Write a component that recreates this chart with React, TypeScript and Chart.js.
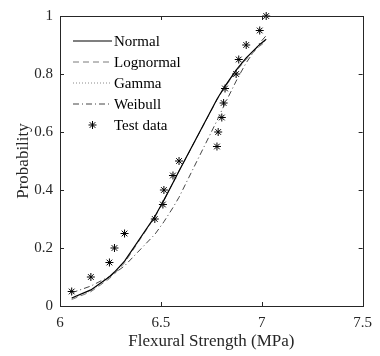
import React, { useEffect, useRef } from "react";
import { Chart, registerables } from "chart.js";
Chart.register(...registerables);

const strength = [6.058, 6.153, 6.245, 6.27, 6.32, 6.47, 6.51, 6.515, 6.56, 6.59, 6.778, 6.784, 6.802, 6.811, 6.818, 6.873, 6.886, 6.923, 6.99, 7.022];
const testProb = [0.05, 0.1, 0.15, 0.2, 0.25, 0.3, 0.35, 0.4, 0.45, 0.5, 0.55, 0.6, 0.65, 0.7, 0.75, 0.8, 0.85, 0.9, 0.95, 1.0];
const normalCdf = [0.0274, 0.0556, 0.101, 0.1171, 0.1545, 0.3085, 0.3586, 0.3651, 0.4248, 0.4657, 0.713, 0.72, 0.7405, 0.7504, 0.758, 0.8132, 0.825, 0.8559, 0.902, 0.9198];
const lognormalCdf = [0.0223, 0.0492, 0.0944, 0.1107, 0.1488, 0.3064, 0.3574, 0.364, 0.4244, 0.4655, 0.7108, 0.7177, 0.7378, 0.7475, 0.755, 0.8088, 0.8203, 0.8506, 0.896, 0.9136];
const gammaCdf = [0.025, 0.0525, 0.0978, 0.114, 0.1517, 0.3075, 0.358, 0.3646, 0.4246, 0.4656, 0.7119, 0.7189, 0.7392, 0.749, 0.7565, 0.811, 0.8227, 0.8533, 0.899, 0.9167];
const weibullCdf = [0.0454, 0.0688, 0.1016, 0.1127, 0.1383, 0.2469, 0.2854, 0.2905, 0.3394, 0.375, 0.639, 0.648, 0.6747, 0.688, 0.6982, 0.7755, 0.7927, 0.8386, 0.9071, 0.9325];
const xTicks = [6, 6.5, 7, 7.5];
const yTicks = [0, 0.2, 0.4, 0.6, 0.8, 1];

const FONT = "'Liberation Serif', 'Times New Roman', serif";
const AX = "#262626";

const pts = (ys: number[]) => strength.map((x, i) => ({ x, y: ys[i] }));

function drawStar(ctx: CanvasRenderingContext2D, x: number, y: number, r: number) {
  ctx.beginPath();
  for (let k = 0; k < 4; k++) {
    const a = (k * Math.PI) / 4;
    ctx.moveTo(x - r * Math.cos(a), y - r * Math.sin(a));
    ctx.lineTo(x + r * Math.cos(a), y + r * Math.sin(a));
  }
  ctx.stroke();
}

const framePlugin = {
  id: "frame",
  afterDatasetsDraw(chart: any) {
    const { ctx, chartArea: a, scales } = chart;
    ctx.save();
    ctx.strokeStyle = AX;
    ctx.lineWidth = 1;
    ctx.setLineDash([]);
    ctx.strokeRect(Math.round(a.left) + 0.5, Math.round(a.top) + 0.5, Math.round(a.right - a.left), Math.round(a.bottom - a.top));
    const L = 4;
    ctx.beginPath();
    xTicks.forEach((v) => {
      const px = Math.round(scales.x.getPixelForValue(v)) + 0.5;
      ctx.moveTo(px, a.bottom);
      ctx.lineTo(px, a.bottom - L);
      ctx.moveTo(px, a.top);
      ctx.lineTo(px, a.top + L);
    });
    yTicks.forEach((v) => {
      const py = Math.round(scales.y.getPixelForValue(v)) + 0.5;
      ctx.moveTo(a.left, py);
      ctx.lineTo(a.left + L, py);
      ctx.moveTo(a.right, py);
      ctx.lineTo(a.right - L, py);
    });
    ctx.stroke();

    // legend
    const x0 = a.left + 13;
    const x1 = a.left + 52;
    const tx = a.left + 54;
    let y = a.top + 25;
    ctx.font = `15px ${FONT}`;
    ctx.textBaseline = "middle";
    ctx.textAlign = "left";
    chart.data.datasets.forEach((ds: any) => {
      ctx.strokeStyle = ds.borderColor;
      ctx.lineWidth = ds.borderWidth;
      if (ds.showLine === false) {
        ctx.setLineDash([]);
        ctx.lineWidth = 1;
        ctx.strokeStyle = "#000";
        drawStar(ctx, (x0 + x1) / 2, y, 4);
      } else {
        ctx.setLineDash(ds.borderDash || []);
        ctx.beginPath();
        ctx.moveTo(x0, y);
        ctx.lineTo(x1, y);
        ctx.stroke();
      }
      ctx.setLineDash([]);
      ctx.fillStyle = "#000";
      ctx.fillText(ds.label, tx, y + 1);
      y += 21;
    });
    ctx.restore();
  },
};

export default function App() {
  const ref = useRef<HTMLCanvasElement>(null);
  useEffect(() => {
    const chart = new Chart(ref.current!, {
      type: "scatter",
      data: {
        datasets: [
          { label: "Normal", data: pts(normalCdf), showLine: true, borderColor: "#000000", borderWidth: 1.2, pointRadius: 0, borderDash: [] },
          { label: "Lognormal", data: pts(lognormalCdf), showLine: true, borderColor: "#7a7a7a", borderWidth: 1, pointRadius: 0, borderDash: [6, 4] },
          { label: "Gamma", data: pts(gammaCdf), showLine: true, borderColor: "#8a8a8a", borderWidth: 1, pointRadius: 0, borderDash: [1, 2] },
          { label: "Weibull", data: pts(weibullCdf), showLine: true, borderColor: "#444444", borderWidth: 1, pointRadius: 0, borderDash: [6, 3, 1, 3] },
          { label: "Test data", data: pts(testProb), showLine: false, borderColor: "#000000", backgroundColor: "#000000", borderWidth: 1, pointStyle: "star", pointRadius: 4, clip: false } as any,
        ],
      },
      options: {
        animation: false,
        responsive: false,
        layout: { padding: { left: 0, right: 7, top: 12, bottom: 0 } },
        plugins: { legend: { display: false }, tooltip: { enabled: false } },
        scales: {
          x: {
            type: "linear",
            min: 6,
            max: 7.5,
            afterBuildTicks: (s: any) => { s.ticks = xTicks.map((v) => ({ value: v })); },
            afterFit: (s: any) => { s.height = 50; },
            grid: { display: false, drawTicks: false },
            border: { display: false },
            ticks: { padding: 8, color: AX, font: { family: FONT, size: 15 }, maxRotation: 0, callback: (v: any) => String(v) },
            title: { display: true, text: "Flexural Strength (MPa)", color: AX, font: { family: FONT, size: 17 }, padding: { top: 0, bottom: 4 } },
          },
          y: {
            type: "linear",
            min: 0,
            max: 1,
            afterBuildTicks: (s: any) => { s.ticks = yTicks.map((v) => ({ value: v })); },
            afterFit: (s: any) => { s.width = 60; },
            grid: { display: false, drawTicks: false },
            border: { display: false },
            ticks: { padding: 7, color: AX, font: { family: FONT, size: 15 }, callback: (v: any) => String(v) },
            title: { display: true, text: "Probability", color: AX, font: { family: FONT, size: 17 }, padding: { top: 13, bottom: 0 } },
          },
        },
      },
      plugins: [framePlugin],
    });
    return () => chart.destroy();
  }, []);
  return (
    <div style={{ position: "fixed", left: 0, top: 0, width: 380, height: 356, background: "#fff" }}>
      <canvas ref={ref} width={380} height={356} />
    </div>
  );
}
